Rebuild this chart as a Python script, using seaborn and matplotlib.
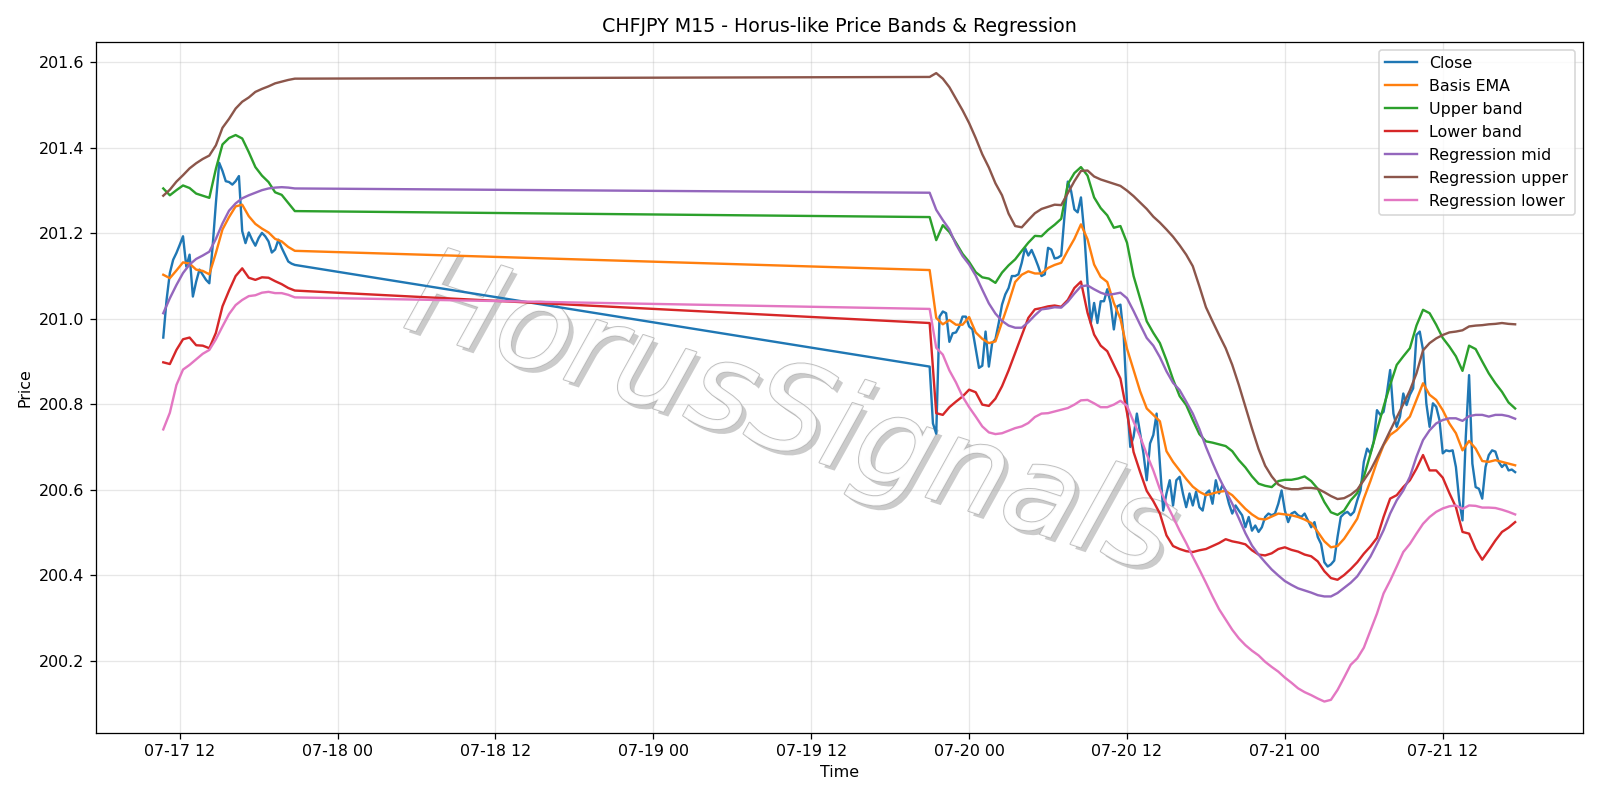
import numpy as np
import pandas as pd
import matplotlib
matplotlib.use("Agg")
import matplotlib.pyplot as plt
import matplotlib.dates as mdates
import matplotlib.patheffects as pe
import seaborn as sns

# ---------------- data ----------------
series_names = ["Close", "Basis EMA", "Upper band", "Lower band",
                "Regression mid", "Regression upper", "Regression lower"]
colors = ["#1f77b4", "#ff7f0e", "#2ca02c", "#d62728", "#9467bd", "#8c564b", "#e377c2"]

# segment 1: 2020-07-17 10:45 .. 20:45
close_seg1 = [200.956, 201.044, 201.107, 201.138, 201.154, 201.173, 201.193, 201.122, 201.150, 201.052,
              201.087, 201.115, 201.103, 201.091, 201.083, 201.169, 201.271, 201.365, 201.346, 201.322,
              201.320, 201.314, 201.322, 201.334, 201.205, 201.177, 201.202, 201.185, 201.171, 201.189,
              201.201, 201.193, 201.181, 201.155, 201.162, 201.185, 201.166, 201.150, 201.134, 201.129,
              201.126]
ema_seg1 = [201.103, 201.095, 201.113, 201.132, 201.129, 201.115, 201.112, 201.104, 201.154, 201.209,
            201.238, 201.263, 201.267, 201.240, 201.222, 201.211, 201.202, 201.187, 201.181, 201.168, 201.159]
upper_seg1 = [201.305, 201.289, 201.301, 201.312, 201.306, 201.293, 201.288, 201.283, 201.351, 201.408,
              201.423, 201.430, 201.422, 201.390, 201.355, 201.335, 201.320, 201.296, 201.290, 201.271, 201.252]
lower_seg1 = [200.898, 200.894, 200.927, 200.952, 200.956, 200.938, 200.937, 200.931, 200.967, 201.029,
              201.066, 201.100, 201.118, 201.096, 201.091, 201.097, 201.096, 201.088, 201.081, 201.072, 201.066]
regmid_seg1 = [201.013, 201.048, 201.079, 201.107, 201.127, 201.140, 201.148, 201.157, 201.187, 201.223,
               201.253, 201.270, 201.282, 201.289, 201.295, 201.301, 201.305, 201.307, 201.308, 201.307, 201.305]
regup_seg1 = [201.288, 201.302, 201.321, 201.336, 201.352, 201.364, 201.374, 201.382, 201.406, 201.447,
              201.468, 201.492, 201.508, 201.518, 201.531, 201.538, 201.544, 201.551, 201.555, 201.559, 201.562]
reglo_seg1 = [200.741, 200.780, 200.845, 200.881, 200.892, 200.905, 200.918, 200.927, 200.952, 200.982,
              201.011, 201.032, 201.044, 201.053, 201.055, 201.061, 201.063, 201.060, 201.060, 201.056, 201.050]

# segment 2: 2020-07-19 21:00 .. 2020-07-21 17:30
close_seg2 = [200.888, 200.755, 200.731, 201.005, 201.017, 201.013, 200.946, 200.966, 200.968, 200.982,
              201.005, 201.005, 200.982, 200.975, 200.930, 200.885, 200.890, 200.970, 200.888, 200.943,
              200.952, 200.990, 201.033, 201.057, 201.072, 201.100, 201.100, 201.104, 201.131, 201.166,
              201.148, 201.161, 201.143, 201.123, 201.100, 201.104, 201.166, 201.162, 201.141, 201.143,
              201.148, 201.241, 201.321, 201.299, 201.256, 201.249, 201.284, 201.202, 201.084, 200.990,
              201.037, 200.990, 201.041, 201.041, 201.069, 201.037, 200.975, 201.029, 201.033, 200.959,
              200.803, 200.700, 200.724, 200.778, 200.732, 200.685, 200.622, 200.708, 200.728, 200.778,
              200.661, 200.551, 200.591, 200.622, 200.563, 200.622, 200.630, 200.591, 200.559, 200.591,
              200.563, 200.595, 200.559, 200.551, 200.591, 200.598, 200.567, 200.622, 200.591, 200.610,
              200.598, 200.567, 200.544, 200.563, 200.551, 200.540, 200.512, 200.536, 200.504, 200.516,
              200.501, 200.512, 200.536, 200.544, 200.540, 200.544, 200.567, 200.598, 200.551, 200.524,
              200.544, 200.548, 200.540, 200.536, 200.544, 200.528, 200.512, 200.524, 200.489, 200.473,
              200.430, 200.420, 200.425, 200.434, 200.489, 200.536, 200.544, 200.548, 200.540, 200.548,
              200.575, 200.598, 200.665, 200.696, 200.685, 200.712, 200.786, 200.775, 200.782, 200.825,
              200.880, 200.778, 200.747, 200.771, 200.825, 200.798, 200.822, 200.837, 200.962, 200.970,
              200.927, 200.802, 200.747, 200.802, 200.794, 200.763, 200.685, 200.692, 200.690, 200.692,
              200.653, 200.575, 200.528, 200.724, 200.868, 200.661, 200.606, 200.602, 200.579, 200.653,
              200.681, 200.692, 200.689, 200.665, 200.653, 200.661, 200.645, 200.647, 200.641]
ema_seg2 = [201.114, 201.002, 200.987, 200.997, 200.986, 200.986, 201.004, 200.968, 200.953, 200.943,
            200.947, 200.992, 201.037, 201.086, 201.103, 201.111, 201.106, 201.106, 201.119, 201.126,
            201.131, 201.160, 201.187, 201.221, 201.186, 201.127, 201.098, 201.086, 201.037, 201.000,
            200.930, 200.880, 200.830, 200.790, 200.775, 200.760, 200.690, 200.665, 200.645, 200.625,
            200.607, 200.595, 200.587, 200.591, 200.595, 200.597, 200.587, 200.571, 200.555, 200.542,
            200.532, 200.530, 200.537, 200.544, 200.542, 200.540, 200.536, 200.530, 200.522, 200.501,
            200.479, 200.465, 200.468, 200.485, 200.508, 200.532, 200.579, 200.620, 200.665, 200.704,
            200.728, 200.739, 200.755, 200.771, 200.810, 200.849, 200.822, 200.810, 200.786, 200.755,
            200.732, 200.692, 200.714, 200.696, 200.667, 200.665, 200.669, 200.665, 200.661, 200.657]
upper_seg2 = [201.238, 201.184, 201.219, 201.203, 201.178, 201.152, 201.133, 201.109, 201.097, 201.094,
              201.084, 201.108, 201.125, 201.139, 201.159, 201.178, 201.194, 201.193, 201.208, 201.220,
              201.234, 201.315, 201.341, 201.355, 201.335, 201.284, 201.259, 201.242, 201.213, 201.217,
              201.178, 201.100, 201.047, 200.994, 200.967, 200.943, 200.903, 200.858, 200.819, 200.798,
              200.763, 200.730, 200.713, 200.710, 200.706, 200.702, 200.690, 200.669, 200.652, 200.631,
              200.614, 200.609, 200.606, 200.620, 200.623, 200.623, 200.626, 200.631, 200.620, 200.602,
              200.571, 200.547, 200.541, 200.551, 200.575, 200.592, 200.630, 200.683, 200.739, 200.794,
              200.845, 200.892, 200.912, 200.931, 200.984, 201.021, 201.013, 200.986, 200.955, 200.935,
              200.912, 200.878, 200.937, 200.929, 200.900, 200.872, 200.849, 200.829, 200.804, 200.790]
lower_seg2 = [200.990, 200.779, 200.775, 200.793, 200.806, 200.818, 200.834, 200.828, 200.799, 200.796,
              200.813, 200.842, 200.879, 200.920, 200.961, 201.002, 201.022, 201.025, 201.029, 201.031,
              201.028, 201.044, 201.072, 201.087, 201.014, 200.963, 200.937, 200.924, 200.892, 200.860,
              200.780, 200.688, 200.641, 200.597, 200.573, 200.544, 200.493, 200.468, 200.461, 200.456,
              200.454, 200.458, 200.461, 200.468, 200.475, 200.484, 200.479, 200.476, 200.472, 200.458,
              200.448, 200.446, 200.451, 200.461, 200.465, 200.459, 200.455, 200.448, 200.444, 200.432,
              200.409, 200.393, 200.389, 200.400, 200.414, 200.430, 200.450, 200.467, 200.487, 200.536,
              200.579, 200.587, 200.606, 200.622, 200.649, 200.681, 200.645, 200.645, 200.628, 200.592,
              200.559, 200.501, 200.497, 200.461, 200.436, 200.458, 200.481, 200.501, 200.511, 200.524]
regmid_seg2 = [201.295, 201.255, 201.231, 201.209, 201.174, 201.147, 201.127, 201.101, 201.068, 201.036,
               201.012, 200.995, 200.984, 200.979, 200.979, 200.992, 201.008, 201.022, 201.024, 201.027,
               201.026, 201.040, 201.059, 201.076, 201.078, 201.069, 201.061, 201.056, 201.058, 201.061,
               201.048, 201.018, 200.986, 200.955, 200.937, 200.910, 200.877, 200.850, 200.833, 200.806,
               200.778, 200.742, 200.700, 200.663, 200.628, 200.597, 200.567, 200.533, 200.498, 200.469,
               200.448, 200.430, 200.413, 200.399, 200.386, 200.377, 200.369, 200.364, 200.359, 200.353,
               200.350, 200.350, 200.358, 200.370, 200.382, 200.397, 200.420, 200.443, 200.473, 200.505,
               200.544, 200.575, 200.598, 200.630, 200.677, 200.716, 200.739, 200.755, 200.763, 200.767,
               200.767, 200.761, 200.772, 200.775, 200.775, 200.771, 200.775, 200.775, 200.772, 200.766]
regup_seg2 = [201.566, 201.575, 201.562, 201.542, 201.515, 201.488, 201.458, 201.423, 201.385, 201.354,
              201.317, 201.289, 201.246, 201.217, 201.214, 201.231, 201.247, 201.257, 201.262, 201.267,
              201.266, 201.294, 201.322, 201.346, 201.347, 201.333, 201.326, 201.321, 201.316, 201.311,
              201.300, 201.287, 201.272, 201.257, 201.239, 201.225, 201.209, 201.192, 201.172, 201.150,
              201.123, 201.076, 201.027, 200.994, 200.962, 200.931, 200.892, 200.845, 200.794, 200.743,
              200.695, 200.656, 200.631, 200.612, 200.604, 200.601, 200.601, 200.604, 200.604, 200.602,
              200.594, 200.585, 200.578, 200.580, 200.588, 200.600, 200.622, 200.645, 200.675, 200.706,
              200.738, 200.769, 200.800, 200.832, 200.872, 200.926, 200.943, 200.954, 200.962, 200.968,
              200.970, 200.973, 200.982, 200.984, 200.985, 200.987, 200.988, 200.990, 200.988, 200.987]
reglo_seg2 = [201.023, 200.932, 200.916, 200.879, 200.851, 200.818, 200.793, 200.771, 200.748, 200.734,
              200.730, 200.732, 200.738, 200.744, 200.748, 200.756, 200.770, 200.778, 200.779, 200.783,
              200.787, 200.791, 200.799, 200.809, 200.810, 200.802, 200.793, 200.793, 200.799, 200.808,
              200.796, 200.759, 200.724, 200.683, 200.645, 200.601, 200.567, 200.536, 200.504, 200.475,
              200.443, 200.413, 200.382, 200.350, 200.320, 200.296, 200.272, 200.252, 200.236, 200.223,
              200.212, 200.197, 200.185, 200.174, 200.160, 200.148, 200.135, 200.126, 200.119, 200.111,
              200.104, 200.108, 200.131, 200.160, 200.190, 200.205, 200.230, 200.270, 200.310, 200.357,
              200.387, 200.420, 200.454, 200.473, 200.497, 200.520, 200.536, 200.548, 200.556, 200.561,
              200.563, 200.555, 200.563, 200.562, 200.558, 200.558, 200.557, 200.553, 200.548, 200.542]

# timestamps
t_close = (list(pd.date_range("2020-07-17 10:45", periods=len(close_seg1), freq="15min")) +
           list(pd.date_range("2020-07-19 21:00", periods=len(close_seg2), freq="15min")))
t_band = (list(pd.date_range("2020-07-17 10:45", periods=len(ema_seg1), freq="30min")) +
          list(pd.date_range("2020-07-19 21:00", periods=len(ema_seg2), freq="30min")))

values = {
    "Close": close_seg1 + close_seg2,
    "Basis EMA": ema_seg1 + ema_seg2,
    "Upper band": upper_seg1 + upper_seg2,
    "Lower band": lower_seg1 + lower_seg2,
    "Regression mid": regmid_seg1 + regmid_seg2,
    "Regression upper": regup_seg1 + regup_seg2,
    "Regression lower": reglo_seg1 + reglo_seg2,
}

frames = []
for name in series_names:
    tt = t_close if name == "Close" else t_band
    frames.append(pd.DataFrame({"Time": tt, "Price": values[name], "Series": name}))
df = pd.concat(frames, ignore_index=True)

# ---------------- plot ----------------
plt.rcParams["font.family"] = ["DejaVu Sans"]
DPI = 1600 / 14
fig, ax = plt.subplots(figsize=(14, 7), dpi=DPI)
fig.subplots_adjust(left=0.0598, right=0.9892, top=0.9479, bottom=0.0838)

sns.lineplot(data=df, x="Time", y="Price", hue="Series", hue_order=series_names,
             palette=colors, estimator=None, linewidth=1.5, ax=ax, zorder=2)

handles, labels = ax.get_legend_handles_labels()
ax.legend(handles, labels, loc="upper right")

ax.grid(True, alpha=0.3)
ax.set_title("CHFJPY M15 - Horus-like Price Bands & Regression")
ax.set_xlabel("Time")
ax.set_ylabel("Price")
ax.xaxis.set_major_locator(mdates.HourLocator(byhour=[0, 12]))
ax.xaxis.set_major_formatter(mdates.DateFormatter("%m-%d %H"))

# watermark
ax.text(0.467, 0.456, "HorusSignals", transform=ax.transAxes, fontsize=77,
        style="italic", rotation=-18, ha="center", va="center", color="white",
        alpha=0.9, zorder=1.5,
        path_effects=[pe.SimplePatchShadow(offset=(3, -3), shadow_rgbFace=(0.55, 0.55, 0.55), alpha=0.45),
                      pe.Stroke(linewidth=1.2, foreground=(0.72, 0.72, 0.72)),
                      pe.Normal()])

fig.savefig("out.png", dpi=DPI)
